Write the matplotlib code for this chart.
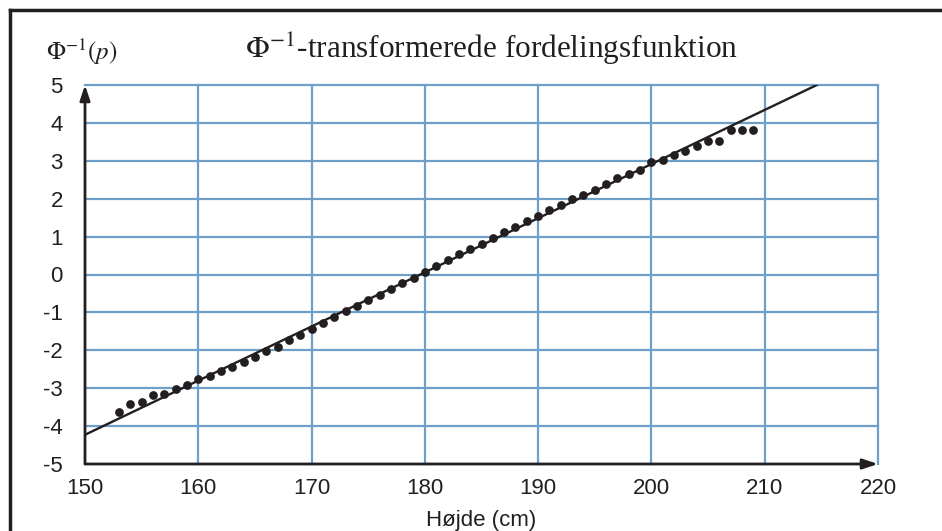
import numpy as np
import matplotlib.pyplot as plt
from matplotlib.lines import Line2D

plt.rcParams['font.family'] = ['Liberation Sans', 'DejaVu Sans']
plt.rcParams['mathtext.fontset'] = 'stix'
plt.rcParams['axes.unicode_minus'] = False

# heights (cm) and transformed empirical distribution values
height = list(range(153, 210))
phi_inv = [-3.62, -3.43, -3.37, -3.18, -3.15, -3.01, -2.91, -2.77, -2.68, -2.55,
           -2.44, -2.31, -2.18, -2.02, -1.90, -1.73, -1.60, -1.44, -1.28, -1.13,
           -0.97, -0.82, -0.67, -0.53, -0.38, -0.23, -0.09, 0.06, 0.22, 0.38,
           0.53, 0.67, 0.81, 0.97, 1.11, 1.25, 1.41, 1.54, 1.70, 1.83,
           1.99, 2.10, 2.23, 2.39, 2.54, 2.66, 2.77, 2.96, 3.03, 3.16,
           3.25, 3.38, 3.52, 3.52, 3.80, 3.80, 3.80]

# straight line for the normal model: (x - mean) / sd
line_mean = 179.6
line_sd = 7.0
line_x = [150, 214.6]

x_ticks = list(range(150, 221, 10))
y_ticks = list(range(-5, 6))

grid_col = '#6e9fc8'
ink = '#231f20'

fig = plt.figure(figsize=(9.42, 5.31), dpi=100)
ax = fig.add_axes([85 / 942, 1 - 464 / 531, (878 - 85) / 942, (464 - 85) / 531])

ax.set_xlim(150, 220)
ax.set_ylim(-5, 5)

for xv in x_ticks[1:]:
    ax.plot([xv, xv], [-5, 5], color=grid_col, lw=1.6, zorder=1, clip_on=False)
for yv in y_ticks[1:]:
    ax.plot([150, 220], [yv, yv], color=grid_col, lw=1.6, zorder=1, clip_on=False)

lx = np.array(line_x)
ax.plot(lx, (lx - line_mean) / line_sd, color=ink, lw=1.7, zorder=3)
ax.plot(height, phi_inv, 'o', color=ink, ms=6.3, mec='none', zorder=4)

# axes with arrow heads
arrow = dict(arrowstyle='-|>,head_length=0.9,head_width=0.3', color=ink, lw=2,
             shrinkA=0, shrinkB=0)
ax.annotate('', xy=(220, -5), xytext=(150, -5), arrowprops=arrow,
            annotation_clip=False, zorder=5)
ax.annotate('', xy=(150, 5), xytext=(150, -5), arrowprops=arrow,
            annotation_clip=False, zorder=5)

for s in ax.spines.values():
    s.set_visible(False)
ax.set_xticks(x_ticks)
ax.set_yticks(y_ticks)
ax.tick_params(length=0, labelsize=16, colors=ink)
ax.tick_params(axis='x', pad=10)
ax.tick_params(axis='y', pad=16)
ax.set_xlabel('Højde (cm)', fontsize=16, color=ink, labelpad=8)

fig.text(46 / 942, 1 - 52 / 531, r'$\Phi^{-1}(p)$', fontsize=18, color=ink,
         ha='left', va='center')
fig.text(492 / 942, 1 - 49 / 531, r'$\Phi^{-1}$-transformerede fordelingsfunktion',
         fontsize=22.5, color=ink, ha='center', va='center', family='Liberation Serif')

# frame around the figure (open at the right and bottom)
fig.add_artist(Line2D([9.5 / 942, 9.5 / 942], [0, 1 - 10 / 531], transform=fig.transFigure,
                      color=ink, lw=2.5))
fig.add_artist(Line2D([9.5 / 942, 1], [1 - 10 / 531, 1 - 10 / 531], transform=fig.transFigure,
                      color=ink, lw=2.5, solid_capstyle='projecting'))

fig.savefig('out.png', dpi=100)
